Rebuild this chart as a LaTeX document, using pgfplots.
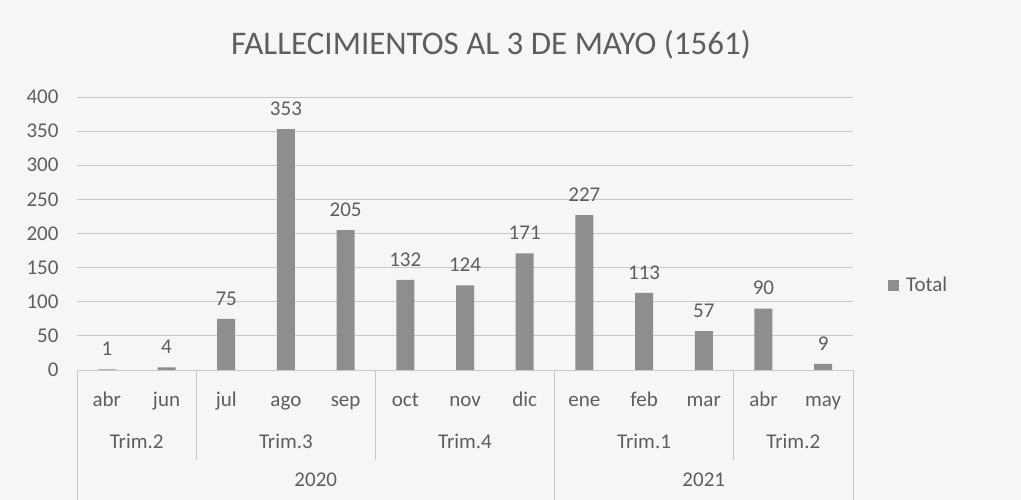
\documentclass[border=0pt]{standalone}
\usepackage{pgfplots}
\pgfplotsset{compat=1.18}
\usepackage{fontspec}
\setmainfont{Carlito}
\definecolor{txt}{HTML}{5E5E5E}
\definecolor{barc}{HTML}{8E8E8E}
\definecolor{gridc}{HTML}{C8C8C8}
\definecolor{bg}{HTML}{F6F6F4}
\begin{document}
\begin{tikzpicture}[x=1pt,y=1pt]
\fill[bg] (0,0) rectangle (1021,500);
\useasboundingbox (0,0) rectangle (1021,500);
\node[font=\fontsize{33}{38}\selectfont, text=txt] at (491,455) {FALLECIMIENTOS AL 3 DE MAYO (1561)};
\begin{axis}[
  at={(77pt,130pt)}, anchor=south west,
  scale only axis, width=776pt, height=273pt,
  ybar, bar width=18pt,
  xmin=-0.5, xmax=12.5, ymin=0, ymax=400,
  ytick={0,50,...,400},
  xtick={0,...,12},
  xticklabels={abr,jun,jul,ago,sep,oct,nov,dic,ene,feb,mar,abr,may},
  axis line style={draw=none},
  major tick length=0,
  ymajorgrids, grid style={gridc, line width=0.8pt},
  tick label style={font=\fontsize{21}{25}\selectfont, text=txt},
  yticklabel style={xshift=-15pt},
  xticklabel style={anchor=base, yshift=-37pt},
  /pgf/number format/assume math mode=true,
  clip=false,
  nodes near coords,
  every node near coord/.append style={font=\fontsize{21}{25}\selectfont, text=txt, yshift=10pt},
  legend style={at={(1,0.311)}, anchor=west, xshift=32pt, draw=none, fill=none,
    font=\fontsize{21}{25}\selectfont, text=txt},
  legend image code/.code={\fill[barc] (0pt,-5.5pt) rectangle (11pt,5.5pt); \path (0pt,0pt) -- (16pt,0pt);},
]
\addplot[fill=barc, draw=none] coordinates {
(0,1) (1,4) (2,75) (3,353) (4,205) (5,132) (6,124) (7,171) (8,227) (9,113) (10,57) (11,90) (12,9)};
\addlegendentry{Total}
\draw[gridc, line width=0.8pt] (axis cs:-0.5,0) -- (axis cs:12.5,0);
\pgfplotsinvokeforeach{1.5,4.5,10.5}{
  \draw[gridc, line width=0.8pt] (axis cs:#1,0) -- ([yshift=-90pt]axis cs:#1,0);
}
\pgfplotsinvokeforeach{-0.5,7.5,12.5}{
  \draw[gridc, line width=0.8pt] (axis cs:#1,0) -- ([yshift=-130pt]axis cs:#1,0);
}
\node[font=\fontsize{21}{25}\selectfont, text=txt, anchor=base] at ([yshift=-79pt]axis cs:0.5,0) {Trim.2};
\node[font=\fontsize{21}{25}\selectfont, text=txt, anchor=base] at ([yshift=-79pt]axis cs:3,0) {Trim.3};
\node[font=\fontsize{21}{25}\selectfont, text=txt, anchor=base] at ([yshift=-79pt]axis cs:6,0) {Trim.4};
\node[font=\fontsize{21}{25}\selectfont, text=txt, anchor=base] at ([yshift=-79pt]axis cs:9,0) {Trim.1};
\node[font=\fontsize{21}{25}\selectfont, text=txt, anchor=base] at ([yshift=-79pt]axis cs:11.5,0) {Trim.2};
\node[font=\fontsize{21}{25}\selectfont, text=txt, anchor=base] at ([yshift=-117pt]axis cs:3.5,0) {2020};
\node[font=\fontsize{21}{25}\selectfont, text=txt, anchor=base] at ([yshift=-117pt]axis cs:10,0) {2021};
\end{axis}
\end{tikzpicture}
\end{document}
